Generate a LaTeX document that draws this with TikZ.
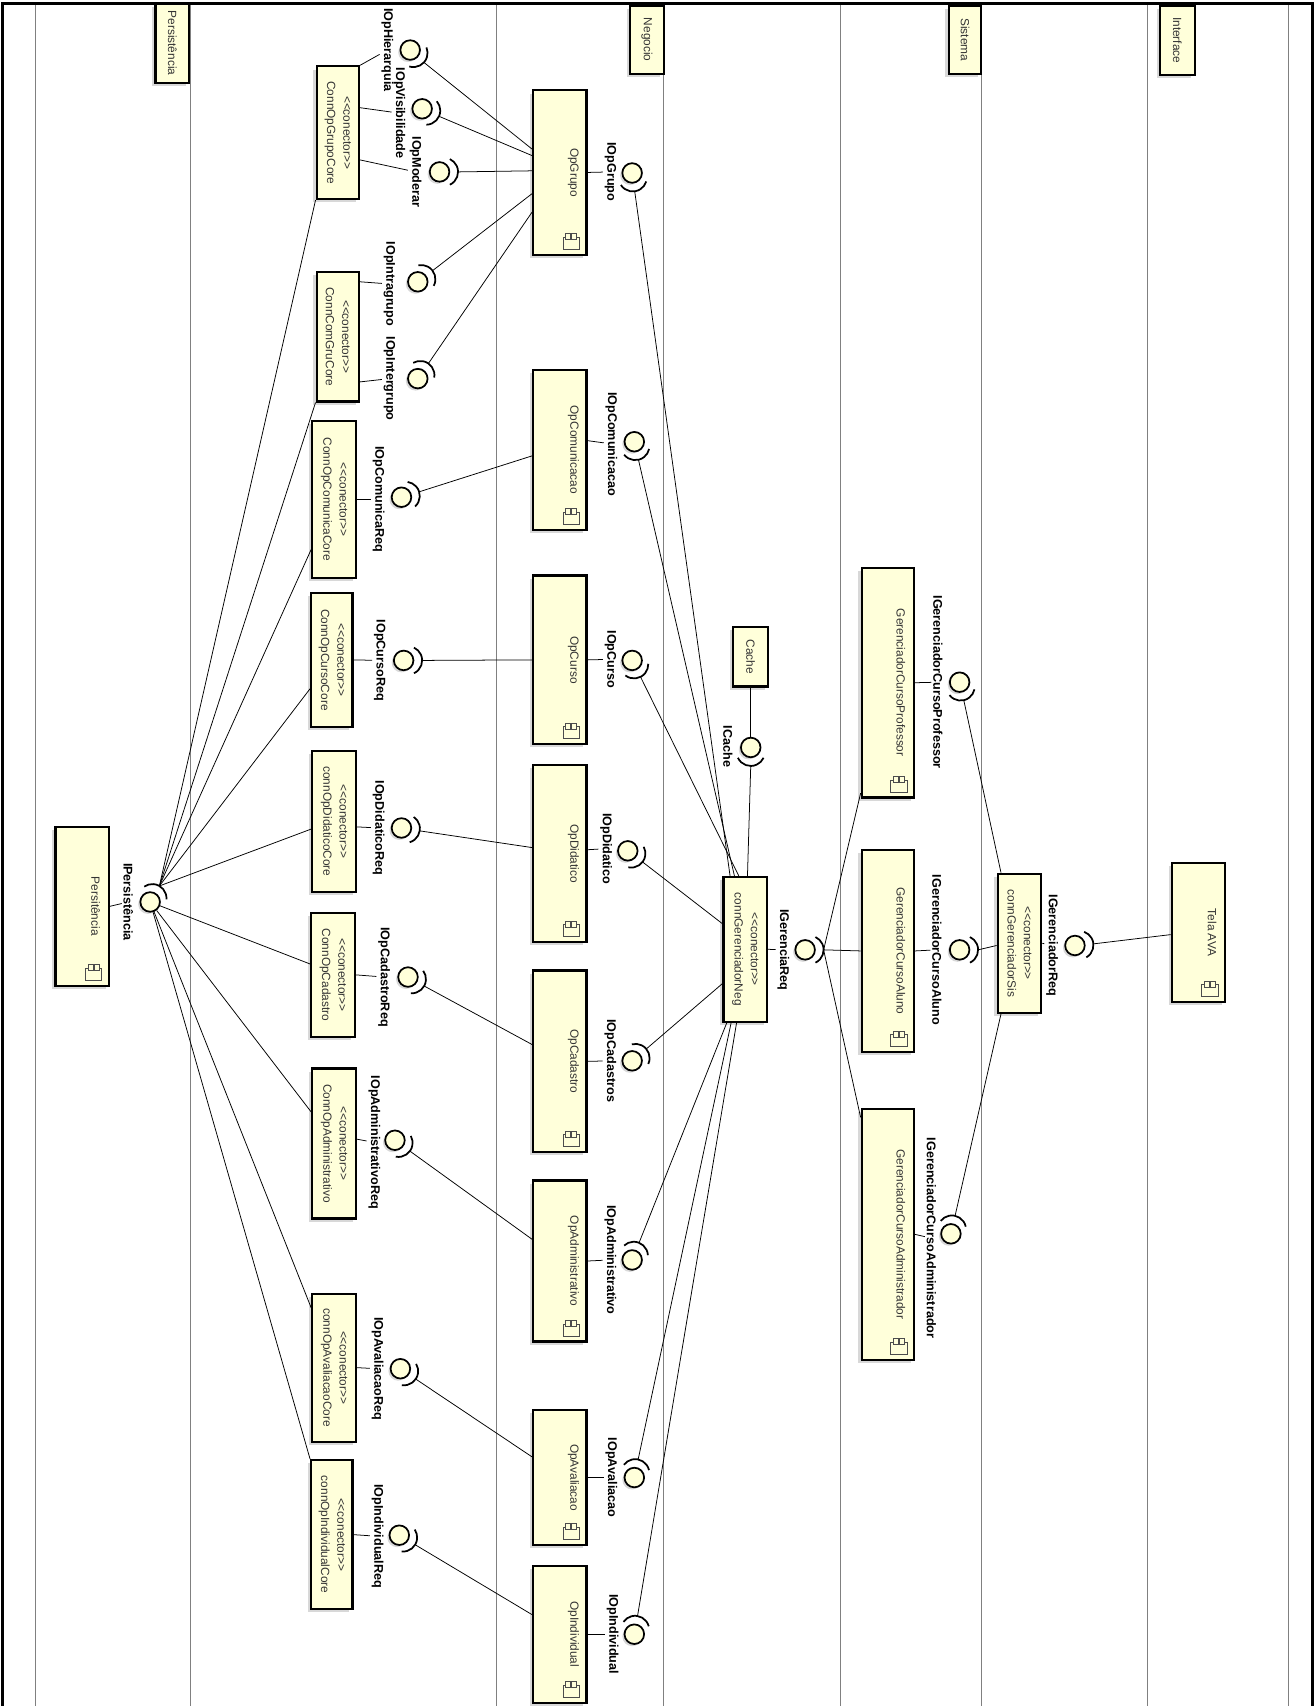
\documentclass[tikz,border=0pt]{standalone}
\usepackage{fontspec}
\setmainfont{Liberation Sans}
\usetikzlibrary{calc,shadows}
\definecolor{compfill}{HTML}{FFFFDA}

\tikzset{
  compicon/.pic={
    \draw[black!70, line width=0.6pt, fill=compfill] (-7.5,-5.5) rectangle (7.5,5.5);
    \draw[black!70, line width=0.6pt, fill=compfill] (-5,-9) rectangle (-0.5,-3.5);
    \draw[black!70, line width=0.6pt, fill=compfill] (0.5,-9) rectangle (5,-3.5);
  }
}

\begin{document}
\begin{tikzpicture}[x=1pt, y=-1pt,
    lane/.style={black!50, line width=0.8pt},
    frm/.style={line width=2.5pt},
    compbox/.style={draw, line width=2pt, fill=compfill, inner sep=0pt,
      drop shadow={shadow xshift=-3pt, shadow yshift=-3pt, fill=black!30}},
    iball/.style={circle, draw, line width=1.6pt, fill=compfill, minimum size=18pt, inner sep=0pt,
      drop shadow={shadow xshift=-2pt, shadow yshift=-2pt, fill=black!30}},
    isock/.style={line width=1.6pt},
    wire/.style={line width=0.7pt},
    lbl/.style={rotate=-90, inner sep=1.5pt, font=\bfseries\fontsize{11.6}{13}\selectfont},
    cname/.style={rotate=-90, text=black!80, align=center, font=\fontsize{10.9}{15}\selectfont}]
    \useasboundingbox (0,0) rectangle (1209,1568);

    % lanes
    \draw[lane] (33,3) -- (33,1568);
    \draw[lane] (175,3) -- (175,1568);
    \draw[lane] (456,3) -- (456,1568);
    \draw[lane] (610,3) -- (610,1568);
    \draw[lane] (772,3) -- (772,1568);
    \draw[lane] (902,3) -- (902,1568);
    \draw[lane] (1055,3) -- (1055,1568);
    \draw[lane] (1184,3) -- (1184,1568);

    % tabs
    \node[compbox, minimum width=31pt, minimum height=73pt] (tPers) at (158.5,39.5) {};
    \node[cname] (tPersT) at (tPers) {Persistência};
    \node[compbox, minimum width=31pt, minimum height=63pt] (tNeg) at (594.5,36.5) {};
    \node[cname] (tNegT) at (tNeg) {Negocio};
    \node[compbox, minimum width=30pt, minimum height=63pt] (tSis) at (887,36.5) {};
    \node[cname] (tSisT) at (tSis) {Sistema};
    \node[compbox, minimum width=32pt, minimum height=64pt] (tInt) at (1082,37) {};
    \node[cname] (tIntT) at (tInt) {Interface};

    % persistencia
    \node[compbox, minimum width=49pt, minimum height=146pt] (persis) at (75.5,833) {};
    \node[cname] (persisT) at ([xshift=-13pt]persis.east) {Persitência};
    \pic at ([xshift=-15pt,yshift=11.5pt]persis.south east) {compicon};

    % conectores
    \node[compbox, minimum width=39pt, minimum height=122pt] (cGrupo) at (310.5,122) {};
    \node[cname] (cGrupoT) at (cGrupo) {<{}<conector>{}>\\ConnOpGrupoCore};
    \node[compbox, minimum width=39pt, minimum height=119pt] (cComGru) at (310.5,309.5) {};
    \node[cname] (cComGruT) at (cComGru) {<{}<conector>{}>\\ConnComGruCore};
    \node[compbox, minimum width=40pt, minimum height=144pt] (cComunica) at (307,459) {};
    \node[cname] (cComunicaT) at (cComunica) {<{}<conector>{}>\\ConnOpComunicaCore};
    \node[compbox, minimum width=38pt, minimum height=123pt] (cCurso) at (305,606.5) {};
    \node[cname] (cCursoT) at (cCurso) {<{}<conector>{}>\\ConnOpCursoCore};
    \node[compbox, minimum width=40pt, minimum height=130pt] (cDidatico) at (307,755) {};
    \node[cname] (cDidaticoT) at (cDidatico) {<{}<conector>{}>\\connOpDidaticoCore};
    \node[compbox, minimum width=40pt, minimum height=114pt] (cCadastro) at (306,896) {};
    \node[cname] (cCadastroT) at (cCadastro) {<{}<conector>{}>\\ConnOpCadastro};
    \node[compbox, minimum width=40pt, minimum height=138pt] (cAdmin) at (307,1051) {};
    \node[cname] (cAdminT) at (cAdmin) {<{}<conector>{}>\\ConnOpAdministrativo};
    \node[compbox, minimum width=40pt, minimum height=136pt] (cAvalia) at (307,1257) {};
    \node[cname] (cAvaliaT) at (cAvalia) {<{}<conector>{}>\\connOpAvaliacaoCore};
    \node[compbox, minimum width=38pt, minimum height=137pt] (cIndiv) at (305,1410.5) {};
    \node[cname] (cIndivT) at (cIndiv) {<{}<conector>{}>\\connOpIndividualCore};

    % negocio
    \node[compbox, minimum width=49pt, minimum height=151pt] (opGrupo) at (514.5,158.5) {};
    \node[cname] (opGrupoT) at ([xshift=-13pt]opGrupo.east) {OpGrupo};
    \pic at ([xshift=-15pt,yshift=11.5pt]opGrupo.south east) {compicon};
    \node[compbox, minimum width=49pt, minimum height=147pt] (opComunica) at (514.5,413.5) {};
    \node[cname] (opComunicaT) at ([xshift=-13pt]opComunica.east) {OpComunicacao};
    \pic at ([xshift=-15pt,yshift=11.5pt]opComunica.south east) {compicon};
    \node[compbox, minimum width=49pt, minimum height=155pt] (opCurso) at (514.5,606.5) {};
    \node[cname] (opCursoT) at ([xshift=-13pt]opCurso.east) {OpCurso};
    \pic at ([xshift=-15pt,yshift=11.5pt]opCurso.south east) {compicon};
    \node[compbox, minimum width=49pt, minimum height=163pt] (opDidatico) at (514.5,784.5) {};
    \node[cname] (opDidaticoT) at ([xshift=-13pt]opDidatico.east) {OpDidatico};
    \pic at ([xshift=-15pt,yshift=11.5pt]opDidatico.south east) {compicon};
    \node[compbox, minimum width=49pt, minimum height=167pt] (opCadastro) at (514.5,975.5) {};
    \node[cname] (opCadastroT) at ([xshift=-13pt]opCadastro.east) {OpCadastro};
    \pic at ([xshift=-15pt,yshift=11.5pt]opCadastro.south east) {compicon};
    \node[compbox, minimum width=49pt, minimum height=148pt] (opAdmin) at (514.5,1159) {};
    \node[cname] (opAdminT) at ([xshift=-13pt]opAdmin.east) {OpAdministrativo};
    \pic at ([xshift=-15pt,yshift=11.5pt]opAdmin.south east) {compicon};
    \node[compbox, minimum width=49pt, minimum height=124pt] (opAvalia) at (514.5,1358) {};
    \node[cname] (opAvaliaT) at ([xshift=-13pt]opAvalia.east) {OpAvaliacao};
    \pic at ([xshift=-15pt,yshift=11.5pt]opAvalia.south east) {compicon};
    \node[compbox, minimum width=49pt, minimum height=126pt] (opIndiv) at (514.5,1502) {};
    \node[cname] (opIndivT) at ([xshift=-13pt]opIndiv.east) {OpIndividual};
    \pic at ([xshift=-15pt,yshift=11.5pt]opIndiv.south east) {compicon};
    \node[compbox, minimum width=32pt, minimum height=55pt] (cache) at (690,603.5) {};
    \node[cname] (cacheT) at (cache) {Cache};
    \node[compbox, minimum width=40pt, minimum height=133pt] (cGerNeg) at (685,872.5) {};
    \node[cname] (cGerNegT) at (cGerNeg) {<{}<conector>{}>\\connGerenciadorNeg};

    % sistema
    \node[compbox, minimum width=48pt, minimum height=211pt] (gcProf) at (816,627.5) {};
    \node[cname] (gcProfT) at ([xshift=-13pt]gcProf.east) {GerenciadorCursoProfessor};
    \pic at ([xshift=-15pt,yshift=11.5pt]gcProf.south east) {compicon};
    \node[compbox, minimum width=48pt, minimum height=186pt] (gcAluno) at (816,874) {};
    \node[cname] (gcAlunoT) at ([xshift=-13pt]gcAluno.east) {GerenciadorCursoAluno};
    \pic at ([xshift=-15pt,yshift=11.5pt]gcAluno.south east) {compicon};
    \node[compbox, minimum width=48pt, minimum height=231pt] (gcAdmin) at (816,1134.5) {};
    \node[cname] (gcAdminT) at ([xshift=-13pt]gcAdmin.east) {GerenciadorCursoAdministrador};
    \pic at ([xshift=-15pt,yshift=11.5pt]gcAdmin.south east) {compicon};
    \node[compbox, minimum width=40pt, minimum height=128pt] (cGerSis) at (937,867) {};
    \node[cname] (cGerSisT) at (cGerSis) {<{}<conector>{}>\\connGerenciadorSis};

    % interface
    \node[compbox, minimum width=49pt, minimum height=128pt] (telaAva) at (1101.5,857) {};
    \node[cname] (telaAvaT) at ([xshift=-13pt]telaAva.east) {Tela AVA};
    \pic at ([xshift=-15pt,yshift=11.5pt]telaAva.south east) {compicon};

    % interfaces (ball + socket)
    \node[iball] (iHier) at (377,46) {};
    \node[lbl] (iHierL) at (356,46) {IOpHierarquia};
    \draw[isock] ($(iHier)+(-42:4pt)+(-107:13pt)$) arc[start angle=-107, end angle=23, radius=13pt];
    \coordinate (iHierS) at ($(iHier)+(-42:17pt)$);

    \node[iball] (iVisib) at (388,100) {};
    \node[lbl] (iVisibL) at (367,104) {IOpVisibilidade};
    \draw[isock] ($(iVisib)+(-24:4pt)+(-89:13pt)$) arc[start angle=-89, end angle=41, radius=13pt];
    \coordinate (iVisibS) at ($(iVisib)+(-24:17pt)$);

    \node[iball] (iModer) at (404,158) {};
    \node[lbl] (iModerL) at (382,158) {IOpModerar};
    \draw[isock] ($(iModer)+(0:4pt)+(-65:13pt)$) arc[start angle=-65, end angle=65, radius=13pt];
    \coordinate (iModerS) at ($(iModer)+(0:17pt)$);

    \node[iball] (iIntra) at (384,259) {};
    \node[lbl] (iIntraL) at (358,261) {IOpIntragrupo};
    \draw[isock] ($(iIntra)+(37:4pt)+(-28:13pt)$) arc[start angle=-28, end angle=102, radius=13pt];
    \coordinate (iIntraS) at ($(iIntra)+(37:17pt)$);

    \node[iball] (iInter) at (384,348) {};
    \node[lbl] (iInterL) at (358,348) {IOpIntergrupo};
    \draw[isock] ($(iInter)+(55:4pt)+(-10:13pt)$) arc[start angle=-10, end angle=120, radius=13pt];
    \coordinate (iInterS) at ($(iInter)+(55:17pt)$);

    \node[iball] (iGrupo) at (581,159) {};
    \node[lbl] (iGrupoL) at (561,158) {IOpGrupo};
    \draw[isock] ($(iGrupo)+(-82:4pt)+(-147:13pt)$) arc[start angle=-147, end angle=-17, radius=13pt];
    \coordinate (iGrupoS) at ($(iGrupo)+(-82:17pt)$);

    \node[iball] (iComReq) at (369,457) {};
    \node[lbl] (iComReqL) at (348,459) {IOpComunicaReq};
    \draw[isock] ($(iComReq)+(17:4pt)+(-48:13pt)$) arc[start angle=-48, end angle=82, radius=13pt];
    \coordinate (iComReqS) at ($(iComReq)+(17:17pt)$);

    \node[iball] (iCom) at (583,406) {};
    \node[lbl] (iComL) at (562,408) {IOpComunicacao};
    \draw[isock] ($(iCom)+(-77:4pt)+(-142:13pt)$) arc[start angle=-142, end angle=-12, radius=13pt];
    \coordinate (iComS) at ($(iCom)+(-77:17pt)$);

    \node[iball] (iCurReq) at (371,607) {};
    \node[lbl] (iCurReqL) at (349,607) {IOpCursoReq};
    \draw[isock] ($(iCurReq)+(0:4pt)+(-65:13pt)$) arc[start angle=-65, end angle=65, radius=13pt];
    \coordinate (iCurReqS) at ($(iCurReq)+(0:17pt)$);

    \node[iball] (iCur) at (581,607) {};
    \node[lbl] (iCurL) at (561,606) {IOpCurso};
    \draw[isock] ($(iCur)+(-63:4pt)+(-128:13pt)$) arc[start angle=-128, end angle=2, radius=13pt];
    \coordinate (iCurS) at ($(iCur)+(-63:17pt)$);

    \node[iball] (iDidReq) at (369,761) {};
    \node[lbl] (iDidReqL) at (348,761) {IOpDidaticoReq};
    \draw[isock] ($(iDidReq)+(-9:4pt)+(-74:13pt)$) arc[start angle=-74, end angle=56, radius=13pt];
    \coordinate (iDidReqS) at ($(iDidReq)+(-9:17pt)$);

    \node[iball] (iDid) at (577,782) {};
    \node[lbl] (iDidL) at (557,780) {IOpDidatico};
    \draw[isock] ($(iDid)+(-37:4pt)+(-102:13pt)$) arc[start angle=-102, end angle=28, radius=13pt];
    \coordinate (iDidS) at ($(iDid)+(-37:17pt)$);

    \node[iball] (iPers) at (138,829) {};
    \node[lbl] (iPersL) at (118,829) {IPersistência};
    \draw[isock] ($(iPers)+(60:4pt)+(-5:13pt)$) arc[start angle=-5, end angle=125, radius=13pt];
    \coordinate (iPersS) at ($(iPers)+(60:17pt)$);

    \node[iball] (iCadReq) at (375,898) {};
    \node[lbl] (iCadReqL) at (353,898) {IOpCadastroReq};
    \draw[isock] ($(iCadReq)+(-29:4pt)+(-94:13pt)$) arc[start angle=-94, end angle=36, radius=13pt];
    \coordinate (iCadReqS) at ($(iCadReq)+(-29:17pt)$);

    \node[iball] (iCad) at (581,975) {};
    \node[lbl] (iCadL) at (561,975) {IOpCadastros};
    \draw[isock] ($(iCad)+(40:4pt)+(-25:13pt)$) arc[start angle=-25, end angle=105, radius=13pt];
    \coordinate (iCadS) at ($(iCad)+(40:17pt)$);

    \node[iball] (iAdmReq) at (363,1048) {};
    \node[lbl] (iAdmReqL) at (344,1050) {IOpAdministrativoReq};
    \draw[isock] ($(iAdmReq)+(-36:4pt)+(-101:13pt)$) arc[start angle=-101, end angle=29, radius=13pt];
    \coordinate (iAdmReqS) at ($(iAdmReq)+(-36:17pt)$);

    \node[iball] (iAdm) at (581,1158) {};
    \node[lbl] (iAdmL) at (561,1158) {IOpAdministrativo};
    \draw[isock] ($(iAdm)+(68:4pt)+(3:13pt)$) arc[start angle=3, end angle=133, radius=13pt];
    \coordinate (iAdmS) at ($(iAdm)+(68:17pt)$);

    \node[iball] (iAvaReq) at (368,1258) {};
    \node[lbl] (iAvaReqL) at (347,1258) {IOpAvaliacaoReq};
    \draw[isock] ($(iAvaReq)+(-34:4pt)+(-99:13pt)$) arc[start angle=-99, end angle=31, radius=13pt];
    \coordinate (iAvaReqS) at ($(iAvaReq)+(-34:17pt)$);

    \node[iball] (iAva) at (583,1358) {};
    \node[lbl] (iAvaL) at (562,1358) {IOpAvaliacao};
    \draw[isock] ($(iAva)+(78:4pt)+(13:13pt)$) arc[start angle=13, end angle=143, radius=13pt];
    \coordinate (iAvaS) at ($(iAva)+(78:17pt)$);

    \node[iball] (iIndReq) at (367,1411) {};
    \node[lbl] (iIndReqL) at (347,1412) {IOpIndividualReq};
    \draw[isock] ($(iIndReq)+(-31:4pt)+(-96:13pt)$) arc[start angle=-96, end angle=34, radius=13pt];
    \coordinate (iIndReqS) at ($(iIndReq)+(-31:17pt)$);

    \node[iball] (iInd) at (583,1502) {};
    \node[lbl] (iIndL) at (563,1502) {IOpIndividual};
    \draw[isock] ($(iInd)+(80:4pt)+(15:13pt)$) arc[start angle=15, end angle=145, radius=13pt];
    \coordinate (iIndS) at ($(iInd)+(80:17pt)$);

    \node[iball] (iCache) at (690,687) {};
    \node[lbl] (iCacheL) at (669,686) {ICache};
    \draw[isock] ($(iCache)+(-90:4pt)+(-155:13pt)$) arc[start angle=-155, end angle=-25, radius=13pt];
    \coordinate (iCacheS) at ($(iCache)+(-90:17pt)$);

    \node[iball] (iGerReq) at (740,873) {};
    \node[lbl] (iGerReqL) at (720,873) {IGerenciaReq};
    \draw[isock] ($(iGerReq)+(0:4pt)+(-65:13pt)$) arc[start angle=-65, end angle=65, radius=13pt];
    \coordinate (iGerReqS) at ($(iGerReq)+(0:17pt)$);

    \node[iball] (iGcProf) at (882,627) {};
    \node[lbl] (iGcProfL) at (862,627) {IGerenciadorCursoProfessor};
    \draw[isock] ($(iGcProf)+(-77:4pt)+(-142:13pt)$) arc[start angle=-142, end angle=-12, radius=13pt];
    \coordinate (iGcProfS) at ($(iGcProf)+(-77:17pt)$);

    \node[iball] (iGcAluno) at (882,873) {};
    \node[lbl] (iGcAlunoL) at (861,873) {IGerenciadorCursoAluno};
    \draw[isock] ($(iGcAluno)+(0:4pt)+(-65:13pt)$) arc[start angle=-65, end angle=65, radius=13pt];
    \coordinate (iGcAlunoS) at ($(iGcAluno)+(0:17pt)$);

    \node[iball] (iGcAdm) at (874,1134) {};
    \node[lbl] (iGcAdmL) at (856,1138) {IGerenciadorCursoAdministrador};
    \draw[isock] ($(iGcAdm)+(77:4pt)+(12:13pt)$) arc[start angle=12, end angle=142, radius=13pt];
    \coordinate (iGcAdmS) at ($(iGcAdm)+(77:17pt)$);

    \node[iball] (iGerSis) at (988,869) {};
    \node[lbl] (iGerSisL) at (967,869) {IGerenciadorReq};
    \draw[isock] ($(iGerSis)+(5:4pt)+(-60:13pt)$) arc[start angle=-60, end angle=70, radius=13pt];
    \coordinate (iGerSisS) at ($(iGerSis)+(5:17pt)$);

    % ligacoes
    \draw[wire] (cGrupo.north east) -- (iHierL);
    \draw[wire] (iHierS) -- ([yshift=-55pt]opGrupo.north west);
    \draw[wire] ([yshift=-39pt]cGrupo.north east) -- (iVisibL);
    \draw[wire] (iVisibS) -- ([yshift=-61pt]opGrupo.north west);
    \draw[wire] ([yshift=-87pt]cGrupo.north east) -- (iModerL);
    \draw[wire] (iModerS) -- ([yshift=-75pt]opGrupo.north west);
    \draw[wire] ([yshift=-10pt]cComGru.north east) -- (iIntraL);
    \draw[wire] (iIntraS) -- ([yshift=-96pt]opGrupo.north west);
    \draw[wire] ([yshift=-102pt]cComGru.north east) -- (iInterL);
    \draw[wire] (iInterS) -- ([yshift=-113pt]opGrupo.north west);
    \draw[wire] (opGrupo.east) -- (iGrupoL);
    \draw[wire] (iGrupoS) -- ([xshift=7pt]cGerNeg.north west);
    \draw[wire] (cComunica.east) -- (iComReqL);
    \draw[wire] (iComReqS) -- ([yshift=-80pt]opComunica.north west);
    \draw[wire] ([yshift=-66pt]opComunica.north east) -- (iComL);
    \draw[wire] (iComS) -- ([xshift=11pt]cGerNeg.north west);
    \draw[wire] (cCurso.east) -- (iCurReqL);
    \draw[wire] (iCurReqS) -- (opCurso.west);
    \draw[wire] (opCurso.east) -- (iCurL);
    \draw[wire] (iCurS) -- ([xshift=15pt]cGerNeg.north west);
    \draw[wire] ([yshift=-71pt]cDidatico.north east) -- (iDidReqL);
    \draw[wire] (iDidReqS) -- ([yshift=-77pt]opDidatico.north west);
    \draw[wire] ([yshift=-79pt]opDidatico.north east) -- (iDidL);
    \draw[wire] (iDidS) -- ([yshift=-44pt]cGerNeg.north west);
    \draw[wire] (persis.east) -- (iPersL);
    \draw[wire] (iPersS) -- (cGrupo.south west);
    \draw[wire] (iPersS) -- (cComGru.south west);
    \draw[wire] (iPersS) -- ([yshift=-119pt]cComunica.north west);
    \draw[wire] (iPersS) -- ([yshift=-89pt]cCurso.north west);
    \draw[wire] (iPersS) -- ([yshift=-73pt]cDidatico.north west);
    \draw[wire] (iPers) -- ([yshift=-48pt]cCadastro.north west);
    \draw[wire] (iPers) -- ([yshift=-41pt]cAdmin.north west);
    \draw[wire] (iPers) -- ([yshift=-14pt]cAvalia.north west);
    \draw[wire] (iPers) -- (cIndiv.north west);
    \draw[wire] (cCadastro.east) -- (iCadReqL);
    \draw[wire] (iCadReqS) -- ([yshift=-69pt]opCadastro.north west);
    \draw[wire] (opCadastro.east) -- (iCadL);
    \draw[wire] (iCadS) -- ([yshift=-99pt]cGerNeg.north west);
    \draw[wire] ([yshift=-66pt]cAdmin.north east) -- (iAdmReqL);
    \draw[wire] (iAdmReqS) -- ([yshift=-55pt]opAdmin.north west);
    \draw[wire] (opAdmin.east) -- (iAdmL);
    \draw[wire] (iAdmS) -- ([xshift=4pt]cGerNeg.south west);
    \draw[wire] (cAvalia.east) -- (iAvaReqL);
    \draw[wire] (iAvaReqS) -- ([yshift=-44pt]opAvalia.north west);
    \draw[wire] (opAvalia.east) -- (iAvaL);
    \draw[wire] (iAvaS) -- ([xshift=8pt]cGerNeg.south west);
    \draw[wire] (cIndiv.east) -- (iIndReqL);
    \draw[wire] (iIndReqS) -- ([yshift=-46pt]opIndiv.north west);
    \draw[wire] (opIndiv.east) -- (iIndL);
    \draw[wire] (iIndS) -- ([xshift=13pt]cGerNeg.south west);
    \draw[wire] (cache.south) -- (iCache);
    \draw[wire] (iCacheS) -- ([xshift=23pt]cGerNeg.north west);
    \draw[wire] (cGerNeg.east) -- (iGerReqL);
    \draw[wire] (iGerReqS) -- ([yshift=5pt]gcProf.south west);
    \draw[wire] (iGerReqS) -- (gcAluno.west);
    \draw[wire] (iGerReqS) -- ([yshift=-9pt]gcAdmin.north west);
    \draw[wire] (gcProf.east) -- (iGcProfL);
    \draw[wire] (iGcProfS) -- ([xshift=4pt]cGerSis.north west);
    \draw[wire] (gcAluno.east) -- (iGcAlunoL);
    \draw[wire] (iGcAlunoS) -- ([yshift=-67pt]cGerSis.north west);
    \draw[wire] (gcAdmin.east) -- (iGcAdmL);
    \draw[wire] (iGcAdmS) -- ([xshift=4pt]cGerSis.south west);
    \draw[wire] (cGerSis.east) -- (iGerSisL);
    \draw[wire] (iGerSisS) -- ([yshift=-67pt]telaAva.north west);

    % moldura
    \draw[frm] (2,1568) -- (2,3) -- (1206,3) -- (1206,1568);
\end{tikzpicture}
\end{document}
